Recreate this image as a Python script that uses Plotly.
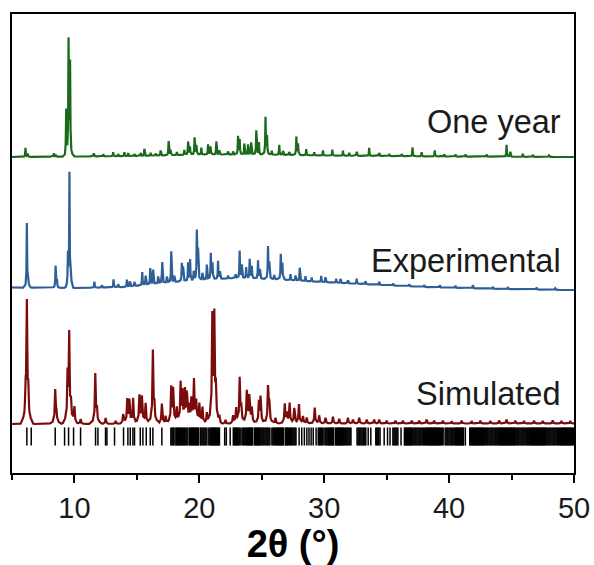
import numpy as np
import plotly.graph_objects as go

# ---------------------------------------------------------------------------
# Powder diffraction data (2θ in degrees, intensity in arbitrary units)
# ---------------------------------------------------------------------------

# Aged sample (one year)
year_bg_2theta = [5, 10, 15, 20, 25, 30, 40, 50]
year_bg = [316, 316.5, 317, 318.5, 318.5, 317.5, 316.5, 316]
year_peak_2theta = [6.08, 6.25, 8.35, 8.5, 9.34, 9.53, 9.65, 11.55, 12.3, 13.1,
                    13.5, 14.0, 14.3, 14.8, 15.3, 15.6, 16.1, 16.5, 16.9, 17.54,
                    17.7, 18.2, 18.8, 19.1, 19.25, 19.62, 19.77, 20.16, 20.7, 20.9,
                    21.36, 21.6, 22.3, 22.7, 23.1, 23.23, 23.6, 23.9, 24.15, 24.56,
                    24.77, 25.3, 25.42, 25.8, 26.4, 26.7, 27.2, 27.77, 27.9, 28.56,
                    29.2, 29.9, 30.65, 31.5, 32.0, 32.6, 33.6, 34.4, 35.2, 36.2,
                    37.07, 37.8, 38.85, 39.6, 40.5, 41.3, 43.0, 44.6, 44.9, 45.9,
                    46.7, 48.0]
year_peak_int = [9, 3, 3, 2, 45, 114, 92, 3, 2, 4,
                 2, 4, 3, 2, 3, 7, 3, 2, 5, 14,
                 5, 3, 5, 13, 8, 17, 9, 7, 10, 8,
                 13, 4, 3, 3, 18, 15, 11, 10, 12, 24,
                 12, 37, 18, 4, 10, 4, 3, 18, 11, 6,
                 3, 5, 6, 5, 3, 4, 8, 3, 2, 2,
                 9, 4, 6, 2, 2, 2, 2, 12, 5, 3,
                 2, 1.5]

# As-synthesised sample (experimental)
exp_bg_2theta = [5, 10, 14, 17, 20, 23, 26, 29, 33, 38, 44, 50]
exp_bg = [185.5, 185, 186, 190, 193, 195, 194, 191.5, 189, 186, 184, 183]
exp_peak_2theta = [6.19, 6.3, 8.49, 8.6, 9.48, 9.6, 9.72, 11.6, 12.2, 13.13,
                   13.5, 14.2, 14.45, 14.8, 15.43, 15.7, 16.07, 16.3, 16.7, 17.03,
                   17.4, 17.75, 18.0, 18.6, 18.7, 19.1, 19.26, 19.55, 19.8, 19.9,
                   20.25, 20.6, 20.92, 21.05, 21.5, 21.65, 22.3, 22.9, 23.23, 23.4,
                   23.75, 24.03, 24.2, 24.7, 24.85, 25.5, 25.6, 26.0, 26.52, 26.65,
                   27.3, 27.7, 28.04, 28.5, 29.0, 29.76, 30.1, 30.96, 31.3, 31.9,
                   32.6, 33.3, 34.4, 35.5, 36.8, 38.0, 39.25, 40.5, 41.9, 43.5,
                   44.7, 47.0, 48.5]
exp_peak_int = [64, 11, 22, 8, 32, 114, 15, 6, 2, 8,
                3, 7, 5, 4, 13, 9, 16, 14, 7, 21,
                6, 31, 6, 18, 14, 18, 21, 9, 49, 30,
                7, 15, 26, 16, 18, 7, 3, 4, 27, 13,
                11, 19, 12, 18, 9, 32, 16, 4, 25, 16,
                6, 5, 13, 5, 4, 6, 5, 4, 4, 3,
                5, 3, 3, 2, 2, 2, 2, 2, 3, 2,
                2, 2, 1.5]

# Pattern calculated from the crystal structure (simulated)
sim_bg_2theta = [5, 50]
sim_bg = [49, 49.5]
sim_peak_2theta = [6.1, 6.19, 6.3, 8.46, 8.55, 9.45, 9.58, 9.72, 10.0, 10.5,
                   11.67, 11.8, 12.5, 13.3, 13.9, 14.23, 14.4, 14.7, 15.2, 15.4,
                   15.7, 16.28, 16.4, 17.0, 17.3, 17.75, 17.9, 18.2, 18.5, 18.65,
                   18.85, 19.0, 19.2, 19.36, 19.57, 19.75, 20.0, 20.25, 20.6, 21.04,
                   21.2, 21.32, 21.6, 22.1, 22.7, 22.95, 23.23, 23.35, 23.8, 24.0,
                   24.2, 24.77, 24.9, 25.5, 25.6, 26.1, 26.84, 27.0, 27.23, 27.6,
                   27.98, 28.3, 28.6, 29.24, 29.6, 30.1, 30.7, 31.2, 31.9, 32.3,
                   32.8, 33.4, 34.0, 34.4, 35.0, 35.7, 36.3, 37.0, 37.6, 38.2,
                   38.8, 39.5, 40.2, 41.0, 41.8, 42.5, 43.3, 44.0, 44.6, 45.3,
                   46.0, 46.8, 47.5, 48.3, 49.0, 49.7]
sim_peak_int = [22, 116, 22, 33, 9, 42, 85, 13, 16, 5,
                49, 11, 6, 3, 9, 23, 22, 25, 28, 26,
                20, 72, 13, 20, 7, 34, 32, 14, 38, 28,
                30, 27, 15, 22, 42, 20, 19, 16, 10, 100,
                99, 24, 6, 4, 8, 14, 44, 13, 32, 27,
                15, 20, 25, 35, 18, 6, 19, 9, 20, 15,
                19, 7, 6, 16, 8, 6, 7, 5, 6, 4,
                6, 4, 4, 4, 3, 3, 3, 3, 3, 4,
                3, 3, 2.5, 3, 2.5, 3, 2.5, 3, 4, 3,
                2.5, 3, 2.5, 3, 2.5, 2.5]

# Calculated reflection positions (2θ)
reflections_2theta = [
    6.19, 6.54, 8.46, 9.21, 9.53, 9.93, 10.49, 11.69, 11.88, 12.49,
    12.60, 13.21, 13.93, 14.28, 14.47, 14.68, 14.81, 15.27, 15.48, 15.75,
    16.07, 16.28, 17.00,
    17.72, 17.80, 17.88, 17.95, 18.06, 18.16, 18.24, 18.31, 18.40, 18.48,
    18.55, 18.63, 18.71, 18.79, 18.86, 18.94, 19.01, 19.09, 19.22, 19.30,
    19.38, 19.45, 19.53, 19.61, 19.69, 19.77, 19.85, 19.92, 20.07, 20.14,
    20.22, 20.30, 20.37, 20.45, 20.53, 20.61, 20.76, 20.84, 20.92, 20.99,
    21.06, 21.14, 21.21, 21.29, 21.37, 21.45, 21.53, 21.61, 22.03, 22.16,
    22.47,
    22.72, 22.80, 22.88, 22.96, 23.04, 23.11, 23.19, 23.27, 23.41, 23.49,
    23.56, 23.64, 23.72, 23.80, 23.87, 23.95, 24.03, 24.11, 24.18, 24.26,
    24.41, 24.49, 24.57, 24.64, 24.72, 24.80, 24.87, 24.95, 25.03, 25.11,
    25.18, 25.26, 25.34, 25.42, 25.49, 25.57, 25.65, 25.81, 25.89, 25.96,
    26.04, 26.12, 26.20, 26.27, 26.35, 26.43, 26.51, 26.58, 26.66, 26.74,
    26.89, 26.97, 27.05, 27.12, 27.20, 27.28, 27.36, 27.43, 27.51, 27.59,
    27.67, 27.74,
    27.99, 28.20, 28.41, 28.61, 28.78, 28.95, 29.12, 29.35,
    29.52, 29.60, 29.68, 29.76, 29.84, 29.91, 30.05, 30.13, 30.21, 30.29,
    30.36, 30.44, 30.52, 30.60, 30.67, 30.75, 30.90, 30.98, 31.06, 31.14,
    31.21, 31.29, 31.37, 31.45, 31.52, 31.60, 31.68, 31.76, 31.83, 31.91,
    31.99, 32.07, 32.14,
    32.63, 32.71, 32.79, 32.86, 32.94, 33.02, 33.10, 33.17, 33.25, 33.33,
    33.52, 33.73, 34.13, 34.21, 34.29, 34.37, 34.47, 34.80, 35.07, 35.27,
    35.50, 35.58, 35.66, 35.74, 35.82, 35.90, 36.15, 36.42,
    36.50, 36.58, 36.66, 36.73, 36.81, 36.89, 36.97, 37.04, 37.12, 37.20,
    37.28, 37.35, 37.43, 37.51, 37.59, 37.66, 37.74, 37.82, 37.90, 37.97,
    38.05, 38.13, 38.21, 38.28, 38.36, 38.44, 38.52, 38.59, 38.67, 38.75,
    38.83, 38.90, 38.98, 39.06, 39.14, 39.21, 39.29, 39.37, 39.45, 39.52,
    39.68, 39.76, 39.84, 39.91, 39.99, 40.07, 40.15, 40.22, 40.30, 40.38,
    40.46, 40.53, 40.61, 40.69, 40.77, 40.84, 40.92, 41.00, 41.08, 41.15,
    41.30, 41.65, 41.73, 41.81, 41.88, 41.96, 42.04, 42.12, 42.19, 42.27,
    42.35, 42.43, 42.50, 42.58, 42.66, 42.74, 42.81, 42.89, 42.97, 43.05,
    43.12, 43.20, 43.28, 43.36, 43.43, 43.51, 43.59, 43.67, 43.74, 43.82,
    43.90, 43.98, 44.05, 44.13, 44.21, 44.29, 44.36, 44.44, 44.52, 44.60,
    44.67, 44.75, 44.83, 44.91, 44.98, 45.06, 45.14, 45.22, 45.29, 45.37,
    45.45, 45.53, 45.60, 45.68, 45.76, 45.84, 45.91, 45.99, 46.07, 46.15,
    46.22, 46.30, 46.38, 46.46, 46.53, 46.61, 46.69, 46.77, 46.84, 46.92,
    47.00, 47.08, 47.15, 47.23, 47.31, 47.39, 47.46, 47.54, 47.62, 47.70,
    47.77, 47.85, 47.93, 48.01, 48.08, 48.16, 48.24, 48.32, 48.39, 48.47,
    48.55, 48.63, 48.70, 48.78, 48.86, 48.94, 49.01, 49.09, 49.17, 49.25,
    49.32, 49.40, 49.48, 49.56, 49.63, 49.71, 49.79, 49.87, 49.94,
]

x_ticks = [10, 20, 30, 40, 50]

# ---------------------------------------------------------------------------
# Line-shape templates (offset in degrees, fraction of peak height)
# ---------------------------------------------------------------------------
SHAPE_EXP = ([-0.30, -0.10, -0.04, 0.0, 0.04, 0.10, 0.30],
             [0.0, 0.05, 0.25, 1.0, 0.25, 0.05, 0.0])
SHAPE_SIM = ([-0.50, -0.20, -0.07, 0.0, 0.07, 0.20, 0.50],
             [0.0, 0.06, 0.25, 1.0, 0.25, 0.06, 0.0])


def build_pattern(bg_x, bg_y, pk_x, pk_h, shape):
    offs, fracs = (np.asarray(v, dtype=float) for v in shape)
    pk_x = np.asarray(pk_x, dtype=float)
    nodes = np.concatenate([np.asarray(bg_x, dtype=float)] +
                           [p + offs for p in pk_x])
    nodes = np.unique(np.clip(nodes, 5.0, 50.0))
    y = np.interp(nodes, bg_x, bg_y)
    for p, h in zip(pk_x, pk_h):
        y = y + h * np.interp(nodes, p + offs, fracs, left=0.0, right=0.0)
    return nodes, y


year_x, year_y = build_pattern(year_bg_2theta, year_bg,
                               year_peak_2theta, year_peak_int, SHAPE_EXP)
exp_x, exp_y = build_pattern(exp_bg_2theta, exp_bg,
                             exp_peak_2theta, exp_peak_int, SHAPE_EXP)
sim_x, sim_y = build_pattern(sim_bg_2theta, sim_bg,
                             sim_peak_2theta, sim_peak_int, SHAPE_SIM)

GREEN = "#1b691b"
BLUE = "#2e5f97"
RED = "#7c0c0c"
TICK_ROW = 36.5
FONT = "Liberation Sans, Arial, sans-serif"

fig = go.Figure()
fig.add_trace(go.Scatter(x=year_x, y=year_y, mode="lines",
                         line=dict(color=GREEN, width=2.2), name="One year"))
fig.add_trace(go.Scatter(x=exp_x, y=exp_y, mode="lines",
                         line=dict(color=BLUE, width=2.2), name="Experimental"))
fig.add_trace(go.Scatter(x=sim_x, y=sim_y, mode="lines",
                         line=dict(color=RED, width=2.2), name="Simulated"))
fig.add_trace(go.Scatter(x=reflections_2theta,
                         y=[TICK_ROW] * len(reflections_2theta),
                         mode="markers",
                         marker=dict(symbol="line-ns", size=13,
                                     line=dict(color="black", width=1.5)),
                         name="Reflections"))

label_font = dict(family=FONT, size=32.5, color="#1a1a1a")
for text, yv in [("One year", 351), ("Experimental", 212), ("Simulated", 79)]:
    fig.add_annotation(x=49.1, y=yv, xref="x", yref="y", text=text,
                       showarrow=False, xanchor="right", yanchor="middle",
                       font=label_font)

fig.update_layout(
    width=594, height=565,
    margin=dict(l=12, r=20, t=14, b=92, autoexpand=False),
    paper_bgcolor="white", plot_bgcolor="white",
    showlegend=False,
    xaxis=dict(
        range=[5, 50], tickvals=x_ticks, automargin=False,
        ticks="outside", ticklen=8, tickwidth=2, tickcolor="black",
        ticklabelstandoff=0,
        minor=dict(dtick=5, tick0=0, ticks="outside", ticklen=5,
                   tickwidth=2, tickcolor="black"),
        showline=True, linewidth=2, linecolor="black", mirror=True,
        showgrid=False, zeroline=False,
        tickfont=dict(family=FONT, size=29, color="#1a1a1a"),
        title=dict(text="2θ (°)", standoff=13,
                   font=dict(family=FONT, size=38, color="black",
                             weight="bold")),
    ),
    yaxis=dict(
        range=[0, 459], showticklabels=False, ticks="", automargin=False,
        showline=True, linewidth=2, linecolor="black", mirror=True,
        showgrid=False, zeroline=False,
    ),
)

fig.write_html("out.html")
